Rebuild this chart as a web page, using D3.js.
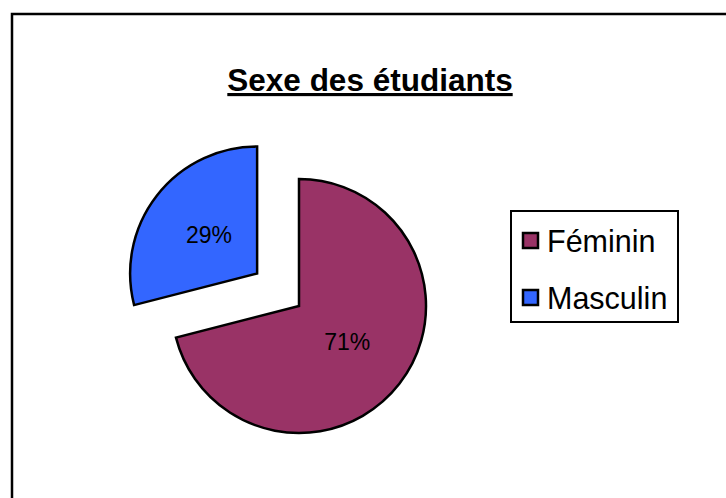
<!DOCTYPE html>
<html>
<head>
<meta charset="utf-8">
<script src="https://cdn.jsdelivr.net/npm/d3@7"></script>
<style>
  body { margin: 0; background: #fff; }
  svg { display: block; font-family: "Liberation Sans", Arial, sans-serif; }
</style>
</head>
<body>
<svg id="chart" width="726" height="498"></svg>
<script>
// data
var categories = ["Féminin", "Masculin"];
var shares = [71, 29];
var colors = ["#993366", "#3366FF"];
var exploded = [0, 53];

var svg = d3.select("#chart"),
	cx = 299, cy = 306, radius = 127;

// outer chart frame (runs past the right and bottom edges)
svg.append("rect")
	.attr("x", 12).attr("y", 14)
	.attr("width", 760).attr("height", 520)
	.attr("fill", "none").attr("stroke", "#000").attr("stroke-width", 2.5);

// title
svg.append("text")
	.attr("x", 370).attr("y", 91)
	.attr("text-anchor", "middle")
	.style("font-size", "31.5px").style("font-weight", "bold")
	.style("text-decoration", "underline")
	.text("Sexe des étudiants");

var pie = d3.pie().sort(null).value(function(d) { return d; });
var arc = d3.arc().innerRadius(0).outerRadius(radius);
var labelArc = d3.arc().innerRadius(61).outerRadius(61);

var slices = pie(shares);

var g = svg.append("g").attr("transform", "translate(" + cx + "," + cy + ")");

var slice = g.selectAll(".slice")
	.data(slices)
	.enter()
	.append("g")
	.attr("class", "slice")
	.attr("transform", function(d, i) {
		var a = (d.startAngle + d.endAngle) / 2;
		return "translate(" + (Math.sin(a) * exploded[i]) + "," + (-Math.cos(a) * exploded[i]) + ")";
	});

slice.append("path")
	.attr("d", arc)
	.attr("fill", function(d, i) { return colors[i]; })
	.attr("stroke", "#000")
	.attr("stroke-width", 2.5)
	.attr("stroke-linejoin", "miter");

slice.append("text")
	.attr("transform", function(d) { return "translate(" + labelArc.centroid(d) + ")"; })
	.attr("text-anchor", "middle")
	.attr("dy", "0.3em")
	.style("font-size", "23px")
	.text(function(d) { return d.data + "%"; });

// legend
var legend = svg.append("g").attr("transform", "translate(511,211)");

legend.append("rect")
	.attr("width", 167).attr("height", 111)
	.attr("fill", "#fff").attr("stroke", "#000").attr("stroke-width", 2);

var item = legend.selectAll(".item")
	.data(categories)
	.enter()
	.append("g")
	.attr("class", "item")
	.attr("transform", function(d, i) { return "translate(12," + (22 + i * 57) + ")"; });

item.append("rect")
	.attr("width", 15).attr("height", 15)
	.attr("fill", function(d, i) { return colors[i]; })
	.attr("stroke", "#000").attr("stroke-width", 2.5);

item.append("text")
	.attr("x", 24).attr("y", 19)
	.style("font-size", "30.5px")
	.text(function(d) { return d; });
</script>
</body>
</html>
